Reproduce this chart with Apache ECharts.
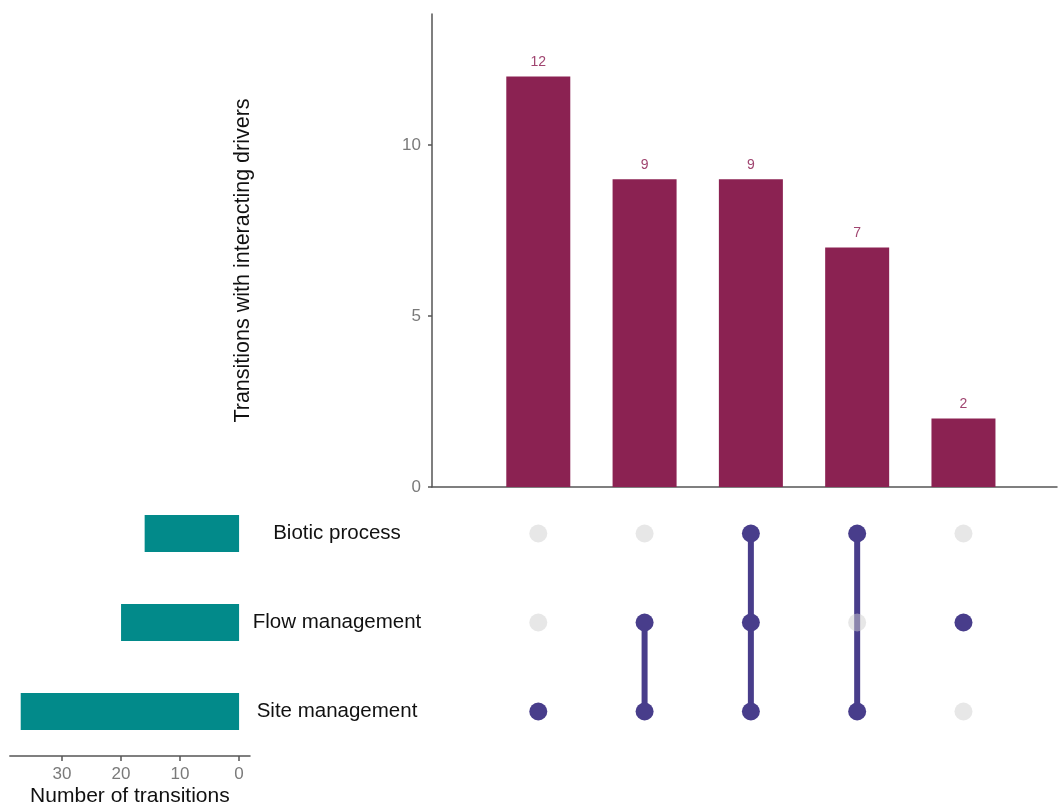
<!DOCTYPE html>
<html>
<head>
<meta charset="utf-8">
<script src="https://cdn.jsdelivr.net/npm/echarts@6/dist/echarts.min.js"></script>
<style>html,body{margin:0;padding:0;background:#fff;}#c{width:1058px;height:805px;}</style>
</head>
<body>
<div id="c"></div>
<script>
// ---- data ----
var setNames = ['Site management', 'Flow management', 'Biotic process']; // bottom -> top
var setTotals = [37, 20, 16];
var intersectionSizes = [12, 9, 9, 7, 2];
// membership per intersection column: indices into setNames
var intersectionMembers = [
  [0],
  [0, 1],
  [0, 1, 2],
  [0, 2],
  [1]
];
var yTicksTop = [0, 5, 10];
var xTicksLeft = [0, 10, 20, 30];

var barColor = '#8B2252';
var labelColor = '#A04570';
var dotColor = '#483D8B';
var teal = '#028A8A';
var axisCol = '#555';
var tickTxt = '#7a7a7a';
var FONT = '"Liberation Sans", Arial, sans-serif';

var colX = intersectionSizes.map(function (v, i) { return i + 1; });

var series = [];
// top bars
series.push({
  type: 'bar', xAxisIndex: 0, yAxisIndex: 0,
  data: intersectionSizes.map(function (v, i) { return [colX[i], v]; }),
  barWidth: 64,
  itemStyle: { color: barColor },
  label: { show: true, position: 'top', distance: 7, color: labelColor, fontSize: 14, fontFamily: FONT },
  silent: true
});
// connector lines
intersectionMembers.forEach(function (m, i) {
  if (m.length > 1) {
    var lo = Math.min.apply(null, m), hi = Math.max.apply(null, m);
    series.push({
      type: 'line', xAxisIndex: 1, yAxisIndex: 1,
      data: [[colX[i], lo], [colX[i], hi]],
      symbol: 'none', lineStyle: { color: dotColor, width: 6, opacity: 1 }, z: 2, silent: true
    });
  }
});
// dots
var greyData = [], activeData = [];
intersectionMembers.forEach(function (m, i) {
  for (var r = 0; r < setNames.length; r++) {
    if (m.indexOf(r) >= 0) activeData.push([colX[i], r]);
    else greyData.push([colX[i], r]);
  }
});
series.push({
  type: 'scatter', xAxisIndex: 1, yAxisIndex: 1, data: greyData,
  symbolSize: 18, itemStyle: { color: '#cfcfcf', opacity: 0.5 }, z: 3, silent: true
});
series.push({
  type: 'scatter', xAxisIndex: 1, yAxisIndex: 1, data: activeData,
  symbolSize: 18, itemStyle: { color: dotColor, opacity: 1 }, z: 4, silent: true
});
// left set-size bars
series.push({
  type: 'bar', xAxisIndex: 2, yAxisIndex: 2,
  data: setTotals, barWidth: 37,
  itemStyle: { color: teal }, silent: true
});

var option = {
  animation: false,
  backgroundColor: '#fff',
  textStyle: { fontFamily: FONT },
  grid: [
    { left: 432, right: 1, top: 14, height: 473, outerBoundsMode: 'none', containLabel: false },
    { left: 432, right: 1, top: 489, height: 267, outerBoundsMode: 'none', containLabel: false },
    { left: 9.8, width: 240.2, top: 489, height: 267, outerBoundsMode: 'none', containLabel: false }
  ],
  xAxis: [
    { gridIndex: 0, type: 'value', min: 0, max: 5.88,
      axisLine: { show: true, lineStyle: { color: axisCol, width: 1.5 } },
      axisTick: { show: false }, axisLabel: { show: false }, splitLine: { show: false } },
    { gridIndex: 1, type: 'value', min: 0, max: 5.88, show: false },
    { gridIndex: 2, type: 'value', min: -1.85, max: 38.85, inverse: true, position: 'bottom',
      axisLine: { show: true, onZero: false, lineStyle: { color: axisCol, width: 1.5 } },
      axisTick: { show: true, length: 5, lineStyle: { color: axisCol, width: 1.5 }, customValues: xTicksLeft },
      axisLabel: { color: tickTxt, fontSize: 17, margin: 10, customValues: xTicksLeft },
      splitLine: { show: false },
      name: 'Number of transitions', nameLocation: 'middle', nameGap: 30,
      nameTextStyle: { color: '#111', fontSize: 21, fontFamily: FONT } }
  ],
  yAxis: [
    { gridIndex: 0, type: 'value', min: 0, max: 13.83,
      axisLine: { show: true, lineStyle: { color: axisCol, width: 1.5 } },
      axisTick: { show: true, length: 4, lineStyle: { color: axisCol, width: 1.5 }, customValues: yTicksTop },
      axisLabel: { color: tickTxt, fontSize: 17, margin: 11, customValues: yTicksTop },
      splitLine: { show: false },
      name: 'Transitions with interacting drivers', nameLocation: 'middle', nameGap: 178, nameRotate: 90,
      nameTextStyle: { color: '#111', fontSize: 21.5, fontFamily: FONT, padding: [0, 20, 0, 0] } },
    { gridIndex: 1, type: 'category', data: setNames, boundaryGap: true,
      axisLine: { show: false }, axisTick: { show: false }, splitLine: { show: false },
      axisLabel: { color: '#111', fontSize: 20.5, fontFamily: FONT, align: 'center', margin: 95 } },
    { gridIndex: 2, type: 'category', data: setNames, boundaryGap: true, show: false }
  ],
  series: series
};
var chart = echarts.init(document.getElementById('c'), null, { renderer: 'canvas' });
chart.setOption(option);
</script>
</body>
</html>
